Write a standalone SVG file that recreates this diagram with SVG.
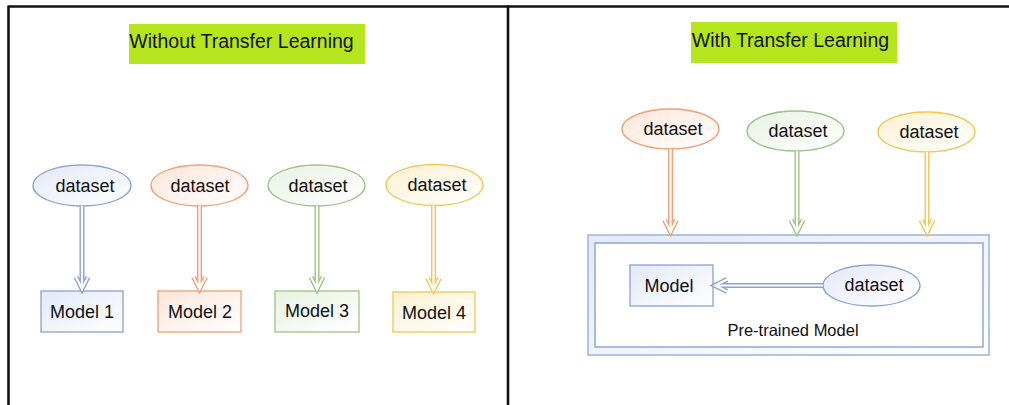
<svg xmlns="http://www.w3.org/2000/svg" width="1009" height="405" viewBox="0 0 1009 405">
  <style>
    .frame { stroke: #111; stroke-width: 2.6; fill: none; }
    .lbl { font-family: "Liberation Sans", Arial, sans-serif; font-size: 18px; fill: #111; text-anchor: middle; }
    .title { font-family: "Liberation Sans", Arial, sans-serif; font-size: 19.5px; fill: #111; text-anchor: middle; }
    .small { font-family: "Liberation Sans", Arial, sans-serif; font-size: 16.5px; fill: #111; text-anchor: middle; }
    .band { fill: #b5e61d; }
    .blue { stroke: #8aa2d6; }
    .orange { stroke: #ee9f75; }
    .green { stroke: #9cc484; }
    .yellow { stroke: #f2c653; }
    .node { stroke-width: 1.3; }
    .arrow-out { fill: none; stroke-width: 5; stroke-linejoin: miter; stroke-linecap: butt; }
    .arrow-in { fill: none; stroke: #fff; stroke-width: 2.2; stroke-linejoin: miter; stroke-linecap: butt; }
  </style>
  <defs>
    <linearGradient id="gBlue" x1="0" y1="0" x2="1" y2="1">
      <stop offset="0" stop-color="#e3e9f7"/>
      <stop offset="1" stop-color="#ffffff"/>
    </linearGradient>
    <linearGradient id="gOrange" x1="0" y1="0" x2="1" y2="1">
      <stop offset="0" stop-color="#fce6da"/>
      <stop offset="1" stop-color="#ffffff"/>
    </linearGradient>
    <linearGradient id="gGreen" x1="0" y1="0" x2="1" y2="1">
      <stop offset="0" stop-color="#e8f1e2"/>
      <stop offset="1" stop-color="#ffffff"/>
    </linearGradient>
    <linearGradient id="gYellow" x1="0" y1="0" x2="1" y2="1">
      <stop offset="0" stop-color="#fdf1d2"/>
      <stop offset="1" stop-color="#ffffff"/>
    </linearGradient>
  </defs>

  <rect width="1009" height="405" fill="#ffffff"/>

  <!-- panel frame -->
  <g id="frame">
    <line class="frame" x1="8.5" y1="6.5" x2="1009" y2="6.5"/>
    <line class="frame" x1="8.5" y1="5.5" x2="8.5" y2="405"/>
    <line class="frame" x1="508" y1="5.5" x2="508" y2="405"/>
  </g>

  <!-- panel titles -->
  <g id="title-left">
    <rect class="band" x="129" y="24" width="236" height="40"/>
    <text class="title" x="241.5" y="48">Without Transfer Learning</text>
  </g>
  <g id="title-right">
    <rect class="band" x="691" y="22" width="206" height="41"/>
    <text class="title" x="790.5" y="47">With Transfer Learning</text>
  </g>

  <!-- left panel nodes -->
  <g id="ds1">
    <ellipse class="node blue" cx="82" cy="185.5" rx="49" ry="20.5" fill="url(#gBlue)"/>
    <text class="lbl" x="85" y="191.5">dataset</text>
  </g>
  <g id="ds2">
    <ellipse class="node orange" cx="199.5" cy="185.5" rx="48.5" ry="20.5" fill="url(#gOrange)"/>
    <text class="lbl" x="200" y="191.5">dataset</text>
  </g>
  <g id="ds3">
    <ellipse class="node green" cx="316.5" cy="185.5" rx="48.5" ry="20.5" fill="url(#gGreen)"/>
    <text class="lbl" x="318" y="191.5">dataset</text>
  </g>
  <g id="ds4">
    <ellipse class="node yellow" cx="434.5" cy="185" rx="48.5" ry="20.5" fill="url(#gYellow)"/>
    <text class="lbl" x="437" y="191">dataset</text>
  </g>
  <g id="model1">
    <rect class="node blue" x="41" y="291" width="82" height="41" fill="url(#gBlue)"/>
    <text class="lbl" x="82" y="318">Model 1</text>
  </g>
  <g id="model2">
    <rect class="node orange" x="158" y="291" width="83" height="41" fill="url(#gOrange)"/>
    <text class="lbl" x="200" y="318">Model 2</text>
  </g>
  <g id="model3">
    <rect class="node green" x="275" y="291" width="84" height="41" fill="url(#gGreen)"/>
    <text class="lbl" x="317" y="317">Model 3</text>
  </g>
  <g id="model4">
    <rect class="node yellow" x="393" y="292" width="82" height="40" fill="url(#gYellow)"/>
    <text class="lbl" x="434" y="319">Model 4</text>
  </g>

  <!-- right panel nodes -->
  <g id="pretrained">
    <rect x="588" y="235" width="401" height="120" fill="url(#gBlue)" stroke="#a3b6de" stroke-width="1.6"/>
    <rect x="595" y="243" width="388" height="104" fill="#ffffff" stroke="#8aa2d6" stroke-width="1.4"/>
    <text class="small" x="793" y="336">Pre-trained Model</text>
  </g>
  <g id="model-base">
    <rect class="node blue" x="630" y="265" width="83" height="41" fill="url(#gBlue)"/>
    <text class="lbl" x="669" y="292">Model</text>
  </g>
  <g id="ds-base">
    <ellipse class="node blue" cx="871.5" cy="285.5" rx="48.5" ry="20.5" fill="url(#gBlue)"/>
    <text class="lbl" x="874" y="291">dataset</text>
  </g>
  <g id="ds-a">
    <ellipse class="node orange" cx="670.5" cy="129" rx="48.5" ry="20" fill="url(#gOrange)"/>
    <text class="lbl" x="673" y="135">dataset</text>
  </g>
  <g id="ds-b">
    <ellipse class="node green" cx="795.5" cy="131" rx="48.5" ry="20" fill="url(#gGreen)"/>
    <text class="lbl" x="798" y="137">dataset</text>
  </g>
  <g id="ds-c">
    <ellipse class="node yellow" cx="926.5" cy="132" rx="48.5" ry="20" fill="url(#gYellow)"/>
    <text class="lbl" x="929" y="138">dataset</text>
  </g>

  <!-- connectors: hollow double-line arrows -->
  <g id="connectors">
    <g>
      <path class="arrow-out blue" d="M82 206 V289 M76 277 L82 289 L88 277"/>
      <path class="arrow-in" d="M82 206 V288 M76 277 L82 289 L88 277"/>
    </g>
    <g>
      <path class="arrow-out orange" d="M199.5 206 V289 M193.5 277 L199.5 289 L205.5 277"/>
      <path class="arrow-in" d="M199.5 206 V288 M193.5 277 L199.5 289 L205.5 277"/>
    </g>
    <g>
      <path class="arrow-out green" d="M317 206 V289 M311 277 L317 289 L323 277"/>
      <path class="arrow-in" d="M317 206 V288 M311 277 L317 289 L323 277"/>
    </g>
    <g>
      <path class="arrow-out yellow" d="M433.5 205.5 V290 M427.5 278 L433.5 290 L439.5 278"/>
      <path class="arrow-in" d="M433.5 205.5 V289 M427.5 278 L433.5 290 L439.5 278"/>
    </g>
    <g>
      <path class="arrow-out orange" d="M670.5 149 V232 M664.5 220 L670.5 232 L676.5 220"/>
      <path class="arrow-in" d="M670.5 149 V231 M664.5 220 L670.5 232 L676.5 220"/>
    </g>
    <g>
      <path class="arrow-out green" d="M797 151 V232 M791 220 L797 232 L803 220"/>
      <path class="arrow-in" d="M797 151 V231 M791 220 L797 232 L803 220"/>
    </g>
    <g>
      <path class="arrow-out yellow" d="M927 152 V232 M921 220 L927 232 L933 220"/>
      <path class="arrow-in" d="M927 152 V231 M921 220 L927 232 L933 220"/>
    </g>
    <g>
      <path class="arrow-out blue" d="M823 285.5 H715 M727 279.5 L715 285.5 L727 291.5"/>
      <path class="arrow-in" d="M823 285.5 H716 M727 279.5 L715 285.5 L727 291.5"/>
    </g>
  </g>
</svg>
